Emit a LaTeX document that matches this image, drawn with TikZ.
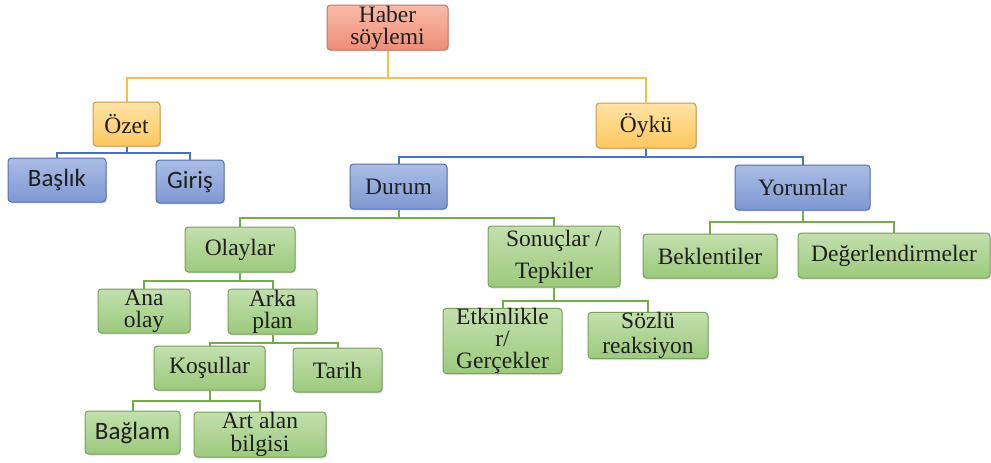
\documentclass[tikz,border=0pt]{standalone}
\usepackage{fontspec}
\setmainfont{Liberation Serif}
\newfontfamily\serfont{Liberation Serif}
\newfontfamily\calfont{Carlito}
\usetikzlibrary{shadows}
\definecolor{redT}{HTML}{F8BBA9}
\definecolor{redD}{HTML}{EE8E77}
\definecolor{redB}{HTML}{B97B6A}
\definecolor{yelT}{HTML}{FFE3A6}
\definecolor{yelD}{HTML}{FDC85E}
\definecolor{yelB}{HTML}{C49C4C}
\definecolor{bluT}{HTML}{AABDE5}
\definecolor{bluD}{HTML}{7E98D2}
\definecolor{bluB}{HTML}{5870A8}
\definecolor{grnT}{HTML}{C3DFAE}
\definecolor{grnD}{HTML}{9CCA7C}
\definecolor{grnB}{HTML}{7A9F5E}
\definecolor{yelL}{HTML}{F5C33F}
\definecolor{bluL}{HTML}{4A72C4}
\definecolor{grnL}{HTML}{72AD4A}
\tikzset{
  box/.style={draw, rounded corners=3.5pt, line width=1pt, inner sep=0pt,
    align=center, font=\serfont\fontsize{23.5}{22}\selectfont, text=black!88,
    drop shadow={shadow xshift=1pt, shadow yshift=-1.5pt, opacity=0.22}},
  redbox/.style={box, draw=redB, top color=redT, bottom color=redD},
  yelbox/.style={box, draw=yelB, top color=yelT, bottom color=yelD},
  blubox/.style={box, draw=bluB, top color=bluT, bottom color=bluD},
  grnbox/.style={box, draw=grnB, top color=grnT, bottom color=grnD},
  sansfont/.style={font=\calfont\fontsize{25}{22}\selectfont},
  sz/.style 2 args={minimum width=#1pt, minimum height=#2pt},
  yline/.style={draw=yelL, line width=2pt},
  bline/.style={draw=bluL, line width=2pt},
  gline/.style={draw=grnL, line width=2pt},
}
\begin{document}
\begin{tikzpicture}[x=1pt,y=-1pt]
\useasboundingbox (0,0) rectangle (991,463);
\fill[white] (0,0) rectangle (991,463);
% nodes
\node[redbox, sz={121}{45}] (haber) at (387.5,27.5) {Haber\\söylemi};
\node[yelbox, sz={67}{44}] (ozet) at (126.5,124) {Özet};
\node[yelbox, sz={100}{45}] (oyku) at (646,125.5) {Öykü};
\node[blubox, sz={98}{44}, sansfont] (baslik) at (57,180) {Başlık};
\node[blubox, sz={68}{43}, sansfont] (giris) at (190,181.5) {Giriş};
\node[blubox, sz={97}{45}] (durum) at (398.5,186.5) {Durum};
\node[blubox, sz={135}{45}] (yorumlar) at (802.5,187.5) {Yorumlar};
\node[grnbox, sz={110}{45}] (olaylar) at (240,249.5) {Olaylar};
\node[grnbox, sz={132}{61}] (sonuclar) at (554,256.5) {Sonuçlar /\\[10pt]Tepkiler};
\node[grnbox, sz={134}{44}] (bekl) at (710,256) {Beklentiler};
\node[grnbox, sz={192}{45}] (deger) at (894,255.5) {Değerlendirmeler};
\node[grnbox, sz={92}{44}] (anaolay) at (144,311) {Ana\\olay};
\node[grnbox, sz={89}{45}] (arkaplan) at (272.5,311.5) {Arka\\plan};
\node[grnbox, sz={119}{58}] (etkin) at (502.5,341) {Etkinlikle\\r/\\Gerçekler};
\node[grnbox, sz={120}{45}] (sozlu) at (648,335.5) {Sözlü\\[3pt]reaksiyon};
\node[grnbox, sz={111}{44}] (kosullar) at (209.5,368) {Koşullar};
\node[grnbox, sz={89}{44}] (tarih) at (337.5,370) {Tarih};
\node[grnbox, sz={95}{43}, sansfont] (baglam) at (132.5,432.5) {Bağlam};
\node[grnbox, sz={132}{45}] (artalan) at (260,434.5) {Art alan\\[1pt]bilgisi};
% connectors
\draw[yline] (haber.south) -- ++(0,27) -| (ozet.north);
\draw[yline] (haber.south) -- ++(0,27) -| (oyku.north);
\draw[bline] (ozet.south) -- ++(0,6) -| (baslik.north);
\draw[bline] (ozet.south) -- ++(0,6) -| (giris.north);
\draw[bline] (oyku.south) -- ++(0,8) -| (durum.north);
\draw[bline] (oyku.south) -- ++(0,8) -| (yorumlar.north);
\draw[gline] (durum.south) -- ++(0,8) -| (olaylar.north);
\draw[gline] (durum.south) -- ++(0,8) -| (sonuclar.north);
\draw[gline] (yorumlar.south) -- ++(0,11) -| (bekl.north);
\draw[gline] (yorumlar.south) -- ++(0,11) -| (deger.north);
\draw[gline] (olaylar.south) -- ++(0,8) -| (anaolay.north);
\draw[gline] (olaylar.south) -- ++(0,8) -| (arkaplan.north);
\draw[gline] (arkaplan.south) -- ++(0,8) -| (kosullar.north);
\draw[gline] (arkaplan.south) -- ++(0,8) -| (tarih.north);
\draw[gline] (sonuclar.south) -- ++(0,13) -| (etkin.north);
\draw[gline] (sonuclar.south) -- ++(0,13) -| (sozlu.north);
\draw[gline] (kosullar.south) -- ++(0,10) -| (baglam.north);
\draw[gline] (kosullar.south) -- ++(0,10) -| (artalan.north);
\end{tikzpicture}
\end{document}
